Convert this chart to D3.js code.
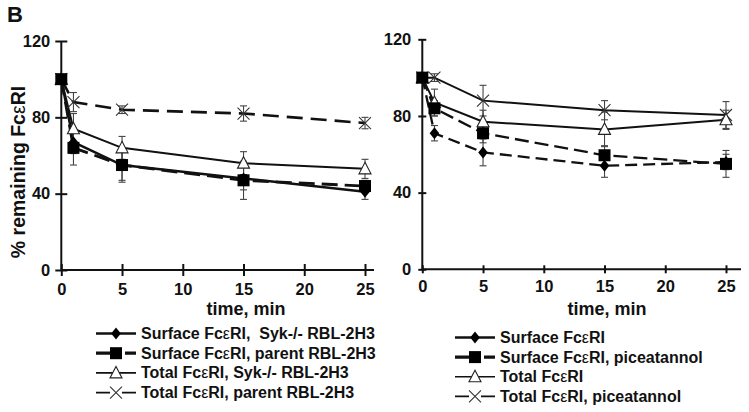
<!DOCTYPE html>
<html>
<head>
<meta charset="utf-8">
<script src="https://cdn.jsdelivr.net/npm/d3@7"></script>
<style>
  body { margin: 0; background: #fff; }
  svg { display: block; font-family: "Liberation Sans", Arial, sans-serif; }
  text { white-space: pre; }
</style>
</head>
<body>
<svg id="chart" width="749" height="412"></svg>
<script>
// ---------------- data ----------------
const timeMin = [0, 1, 5, 15, 25];
const xTicks = [0, 5, 10, 15, 20, 25];
const yTicks = [0, 40, 80, 120];

// Left panel (Syk-/- vs parent RBL-2H3)
const surfSykLeft     = [100, 67, 55, 48, 41];
const surfSykLeftErr  = [0, 6, 8, 6, 4];
const surfParLeft     = [100, 64, 55, 47, 44];
const surfParLeftErr  = [0, 9, 9, 10, 3];
const totSykLeft      = [100, 74, 64, 56, 53];
const totSykLeftErr   = [0, 8, 6, 6, 5];
const totParLeft      = [100, 88, 84, 82, 77];
const totParLeftErr   = [0, 5, 2, 4, 3];

// Right panel (piceatannol)
const surfRight       = [100, 71, 61, 54, 56];
const surfRightErr    = [0, 4, 7, 6, 4];
const surfPicRight    = [100, 84, 71, 59.5, 55];
const surfPicRightErr = [0, 4, 5, 5, 7];
const totRight        = [100, 87, 77, 73, 78];
const totRightErr     = [0, 7, 6, 9, 5];
const totPicRight     = [100, 100, 88, 83, 80.5];
const totPicRightErr  = [0, 2, 8, 5, 7];

const leftLabels = [
  ["Surface Fc", "RI,  Syk-/- RBL-2H3"],
  ["Surface Fc", "RI, parent RBL-2H3"],
  ["Total Fc", "RI, Syk-/- RBL-2H3"],
  ["Total Fc", "RI, parent RBL-2H3"]
];
const rightLabels = [
  ["Surface Fc", "RI"],
  ["Surface Fc", "RI, piceatannol"],
  ["Total Fc", "RI"],
  ["Total Fc", "RI, piceatannol"]
];

// ---------------- drawing ----------------
const svg = d3.select("#chart");
svg.append("rect").attr("width", 749).attr("height", 412).attr("fill", "#fff");

function markerPath(kind, g, cx, cy) {
  if (kind === "diamond") {
    g.append("path").attr("d", `M${cx},${cy-6}L${cx+4.8},${cy}L${cx},${cy+6}L${cx-4.8},${cy}Z`)
      .attr("fill", "#000");
  } else if (kind === "square") {
    g.append("rect").attr("x", cx-6).attr("y", cy-6).attr("width", 12).attr("height", 12).attr("fill", "#000");
  } else if (kind === "triangle") {
    g.append("path").attr("d", `M${cx},${cy-6.5}L${cx+6},${cy+5}L${cx-6},${cy+5}Z`)
      .attr("fill", "#fff").attr("stroke", "#222").attr("stroke-width", 1.1);
  } else if (kind === "x") {
    g.append("path").attr("d", `M${cx-6},${cy-6}L${cx+6},${cy+6}M${cx-6},${cy+6}L${cx+6},${cy-6}`)
      .attr("stroke", "#333").attr("stroke-width", 1.1).attr("fill", "none");
  }
}

function drawPanel(cfg) {
  const x = d3.scaleLinear().domain([0, 25]).range([cfg.x0, cfg.x25]);
  const y = d3.scaleLinear().domain([0, 120]).range([cfg.y0, cfg.y120]);
  const g = svg.append("g");

  g.append("line").attr("x1", x(0)).attr("x2", x(0)).attr("y1", y(0)).attr("y2", y(120))
    .attr("stroke", "#111").attr("stroke-width", 2);
  g.append("line").attr("x1", x(0)).attr("x2", cfg.xEnd).attr("y1", y(0)).attr("y2", y(0))
    .attr("stroke", "#111").attr("stroke-width", 2);

  const yAx = g.append("g").attr("transform", `translate(${x(0)},0)`)
    .call(d3.axisLeft(y).tickValues(yTicks).tickSize(cfg.tick).tickPadding(cfg.yPad));
  yAx.select(".domain").remove();
  yAx.selectAll(".tick line").attr("x1", cfg.tick).attr("stroke", "#111").attr("stroke-width", 2);
  yAx.selectAll(".tick text").attr("font-size", 16.5).attr("font-weight", "bold").attr("fill", "#111")
    .attr("font-family", "Liberation Sans, Arial, sans-serif");

  const xAx = g.append("g").attr("transform", `translate(0,${y(0)})`)
    .call(d3.axisBottom(x).tickValues(xTicks).tickSize(cfg.tick).tickPadding(7));
  xAx.select(".domain").remove();
  xAx.selectAll(".tick line").attr("y1", -cfg.tick).attr("stroke", "#111").attr("stroke-width", 2);
  xAx.selectAll(".tick text").attr("font-size", 16.5).attr("font-weight", "bold").attr("fill", "#111")
    .attr("font-family", "Liberation Sans, Arial, sans-serif");

  g.append("text").attr("x", cfg.titleX).attr("y", 315).attr("text-anchor", "middle")
    .attr("font-size", 18).attr("font-weight", "bold").attr("fill", "#111").text("time, min");

  cfg.series.forEach(s => {
    const line = d3.line().x((d, i) => x(timeMin[i])).y(d => y(d));
    g.append("path").datum(s.values).attr("d", line).attr("fill", "none")
      .attr("stroke", "#111").attr("stroke-width", s.width)
      .attr("stroke-dasharray", s.dash || null);
  });
  cfg.series.forEach(s => {
    s.values.forEach((v, i) => {
      const e = s.err[i];
      if (!e) return;
      const cx = x(timeMin[i]);
      const eg = g.append("g").attr("stroke", "#444").attr("stroke-width", 1.1);
      eg.append("line").attr("x1", cx).attr("x2", cx).attr("y1", y(v - e)).attr("y2", y(v + e));
      eg.append("line").attr("x1", cx - 3.5).attr("x2", cx + 3.5).attr("y1", y(v - e)).attr("y2", y(v - e));
      eg.append("line").attr("x1", cx - 3.5).attr("x2", cx + 3.5).attr("y1", y(v + e)).attr("y2", y(v + e));
    });
  });
  ["x", "triangle", "square", "diamond"].forEach(kind => {
    cfg.series.filter(s => s.marker === kind).forEach(s => {
      s.values.forEach((v, i) => markerPath(kind, g, x(timeMin[i]), y(v)));
    });
  });

  cfg.series.forEach((s, i) => {
    const by = cfg.legBase + i * cfg.legStep;
    const ly = by - 5.5;
    const lg = g.append("g");
    lg.append("path").attr("d", `M${cfg.legX0},${ly}L${cfg.legX1},${ly}`)
      .attr("stroke", "#111").attr("stroke-width", s.legWidth).attr("fill", "none")
      .attr("stroke-dasharray", s.legDash || null);
    markerPath(s.marker, lg, (cfg.legX0 + cfg.legX1) / 2, ly);
    const t = lg.append("text").attr("x", cfg.legX1 + 5).attr("y", by)
      .attr("font-size", 16).attr("font-weight", "bold").attr("fill", "#111");
    t.append("tspan").text(cfg.labels[i][0]);
    t.append("tspan").attr("font-weight", "normal").text("ε");
    t.append("tspan").text(cfg.labels[i][1]);
  });
}

drawPanel({
  x0: 61.3, x25: 365, xEnd: 374, y0: 270, y120: 41, tick: 6, yPad: 5, titleX: 246,
  legX0: 96, legX1: 136, legBase: 339, legStep: 19.7, labels: leftLabels,
  series: [
    { values: surfSykLeft, err: surfSykLeftErr, marker: "diamond", width: 2.5, legWidth: 2.5 },
    { values: surfParLeft, err: surfParLeftErr, marker: "square", width: 2.8, dash: "16,7", legWidth: 3.2, legDash: "26,3,11" },
    { values: totSykLeft, err: totSykLeftErr, marker: "triangle", width: 2, legWidth: 1.6 },
    { values: totParLeft, err: totParLeftErr, marker: "x", width: 2.6, dash: "16,8", legWidth: 1.8, legDash: "14,12,14" }
  ]
});

drawPanel({
  x0: 422.3, x25: 726, xEnd: 741, y0: 269.3, y120: 39.3, tick: 4, yPad: 7, titleX: 607,
  legX0: 455, legX1: 495, legBase: 343, legStep: 19.6, labels: rightLabels,
  series: [
    { values: surfRight, err: surfRightErr, marker: "diamond", width: 2.3, dash: "12,6", legWidth: 2.5 },
    { values: surfPicRight, err: surfPicRightErr, marker: "square", width: 2.3, dash: "14,6", legWidth: 3.2, legDash: "26,3,11" },
    { values: totRight, err: totRightErr, marker: "triangle", width: 2, legWidth: 1.6 },
    { values: totPicRight, err: totPicRightErr, marker: "x", width: 2, legWidth: 1.8, legDash: "14,12,14" }
  ]
});

svg.append("text").attr("x", 7).attr("y", 22).attr("font-size", 22).attr("font-weight", "bold")
  .attr("fill", "#111").text("B");
const yt = svg.append("text").attr("transform", "translate(25,172) rotate(-90)")
  .attr("text-anchor", "middle").attr("font-size", 19.5).attr("font-weight", "bold").attr("fill", "#111");
yt.append("tspan").text("% remaining Fc");
yt.append("tspan").attr("font-weight", "normal").text("ε");
yt.append("tspan").text("RI");
</script>
</body>
</html>
